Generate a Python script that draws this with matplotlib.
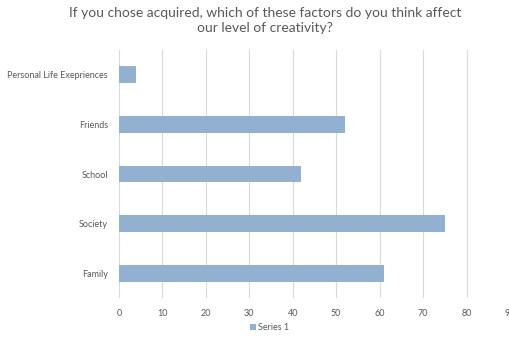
import matplotlib.pyplot as plt

plt.rcParams["font.family"] = ["Lato", "DejaVu Sans"]

factors = ["Family", "Society", "School", "Friends", "Personal Life Exepriences"]
counts = [61, 75, 42, 52, 4]
x_ticks = [0, 10, 20, 30, 40, 50, 60, 70, 80, 90]

bar_color = "#92B1D1"
text_color = "#595959"
grid_color = "#D9D9D9"

fig = plt.figure(figsize=(5.10, 3.38), dpi=100)
ax = fig.add_axes([119 / 510, 1 - 298 / 338, 391 / 510, 248 / 338])

ax.barh(range(len(factors)), counts, height=0.34, color=bar_color, label="Series 1", zorder=3)

ax.set_xlim(0, 90)
ax.set_ylim(-0.5, len(factors) - 0.5)
ax.set_xticks(x_ticks)
ax.set_yticks(range(len(factors)))
ax.set_yticklabels(factors)
ax.tick_params(axis="both", length=0, labelsize=6.5, colors=text_color)
ax.tick_params(axis="x", pad=8)
ax.tick_params(axis="y", pad=8)
ax.grid(axis="x", color=grid_color, lw=0.8, zorder=0)
for s in ax.spines.values():
    s.set_visible(False)

fig.text(265 / 510, 0.978, "If you chose acquired, which of these factors do you think affect\nour level of creativity?",
         ha="center", va="top", fontsize=10, color=text_color, linespacing=1.25)

ax.legend(loc="center", bbox_to_anchor=(270 / 510, 1 - 328 / 338), bbox_transform=fig.transFigure,
          frameon=False, fontsize=6.5, labelcolor=text_color, handlelength=0.6, handleheight=0.6,
          handletextpad=0.3)

fig.savefig("out.png", dpi=100)
